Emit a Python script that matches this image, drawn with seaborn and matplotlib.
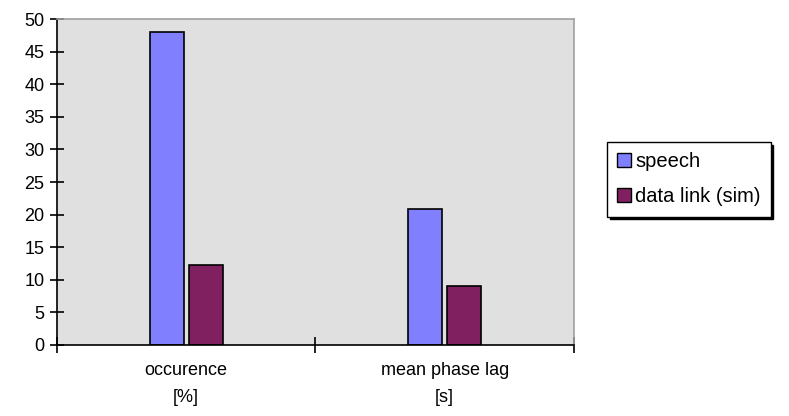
import pandas as pd
import matplotlib.pyplot as plt
import seaborn as sns

categories = ['occurence\n[%]', 'mean phase lag\n[s]']
series = ['speech', 'data link (sim)']
speech = [48.0, 20.8]
data_link = [12.3, 9.1]
yticks = [0, 5, 10, 15, 20, 25, 30, 35, 40, 45, 50]

df = pd.DataFrame({
    'category': categories * 2,
    'series': [series[0]] * 2 + [series[1]] * 2,
    'value': speech + data_link,
})

sns.set_style('white')
plt.rcParams['font.family'] = ['Liberation Sans', 'DejaVu Sans']
plt.rcParams['text.color'] = 'black'
plt.rcParams['xtick.color'] = 'black'
plt.rcParams['ytick.color'] = 'black'

fig = plt.figure(figsize=(7.89, 4.16), dpi=100)
ax = fig.add_axes([0.0722, 0.1707, 0.6553, 0.7836])

sns.barplot(data=df, x='category', y='value', hue='series',
            palette=['#8080FF', '#802060'], saturation=1,
            width=0.3, gap=0.12,
            edgecolor='black', linewidth=1.2, ax=ax)

ax.set_facecolor('#E0E0E0')
ax.set_ylim(0, 50)
ax.set_xlim(-0.5, 1.5)
ax.set_yticks(yticks)
ax.set_xlabel('')
ax.set_ylabel('')

# category boundaries get the tick marks, labels stay in the middle
ax.set_xticks([-0.5, 0.5, 1.5], minor=True)
ax.tick_params(axis='x', which='major', bottom=False, length=0,
               labelsize=13, pad=12)
for lbl in ax.get_xticklabels():
    lbl.set_linespacing(1.8)
ax.tick_params(axis='x', which='minor', bottom=True, direction='inout',
               length=12, width=1.2, color='black')
ax.tick_params(axis='y', left=True, direction='inout', length=10, width=1.2,
               labelsize=13, pad=4, color='black')

for s in ['left', 'bottom']:
    ax.spines[s].set_color('black')
    ax.spines[s].set_linewidth(1.2)
for s in ['top', 'right']:
    ax.spines[s].set_color('#A0A0A0')
    ax.spines[s].set_linewidth(1.2)

ax.get_legend().remove()
handles = [plt.Rectangle((0, 0), 1, 1, facecolor=c, edgecolor='black', lw=1)
           for c in ['#8080FF', '#802060']]
leg = fig.legend(handles, series, loc='upper left',
                 bbox_to_anchor=(0.769, 0.658), bbox_transform=fig.transFigure,
                 frameon=True, fancybox=False, fontsize=14.5,
                 handlelength=0.7, handleheight=0.7, handletextpad=0.2,
                 labelspacing=0.8, borderpad=0.5, borderaxespad=0,
                 shadow={'color': 'black', 'alpha': 1})
leg.get_frame().set_edgecolor('black')
leg.get_frame().set_linewidth(1)

plt.savefig('out.png', dpi=100)
